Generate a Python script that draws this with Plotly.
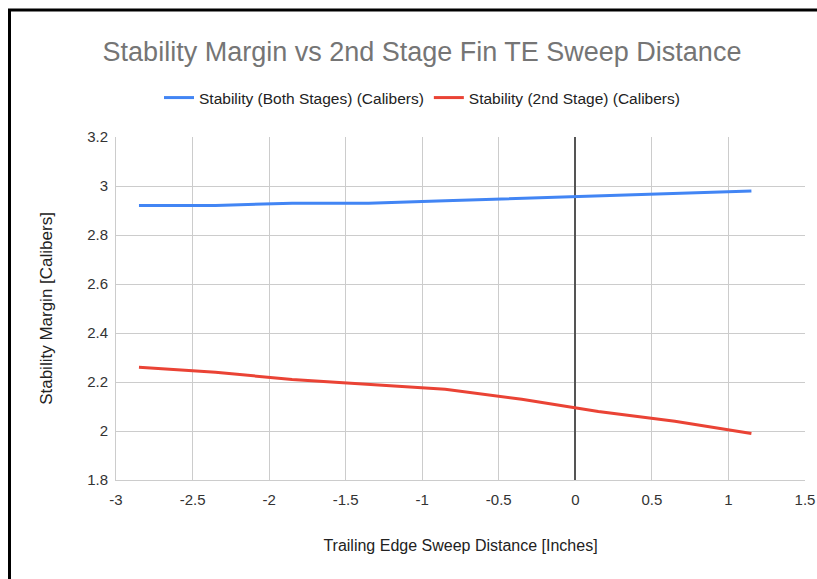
import plotly.graph_objects as go

sweep = [-2.85, -2.35, -1.85, -1.35, -0.85, -0.35, 0.15, 0.65, 1.15]
both_stages = [2.92, 2.92, 2.93, 2.93, 2.94, 2.95, 2.96, 2.97, 2.98]
second_stage = [2.26, 2.24, 2.21, 2.19, 2.17, 2.13, 2.08, 2.04, 1.99]
x_tick_vals = [-3, -2.5, -2, -1.5, -1, -0.5, 0, 0.5, 1, 1.5]
x_tick_text = ["-3", "-2.5", "-2", "-1.5", "-1", "-0.5", "0", "0.5", "1", "1.5"]
y_tick_vals = [1.8, 2, 2.2, 2.4, 2.6, 2.8, 3, 3.2]
y_tick_text = ["1.8", "2", "2.2", "2.4", "2.6", "2.8", "3", "3.2"]
name_both = "Stability (Both Stages) (Calibers)"
name_second = "Stability (2nd Stage) (Calibers)"
title = "Stability Margin vs 2nd Stage Fin TE Sweep Distance"
x_title = "Trailing Edge Sweep Distance [Inches]"
y_title = "Stability Margin [Calibers]"

W, H = 817, 579
L, R, T, B = 116, 12, 137, 99
pw, ph = W - L - R, H - T - B

def px(xp):
    return (xp - L) / pw

def py(yp):
    return (H - B - yp) / ph

font = "Arial, Liberation Sans, sans-serif"

fig = go.Figure()
fig.add_trace(go.Scatter(x=sweep, y=both_stages, mode="lines", name=name_both,
                         line=dict(color="#4285F4", width=3)))
fig.add_trace(go.Scatter(x=sweep, y=second_stage, mode="lines", name=name_second,
                         line=dict(color="#EA4335", width=3)))

fig.update_layout(
    width=W, height=H,
    margin=dict(l=L, r=R, t=T, b=B, autoexpand=False),
    paper_bgcolor="white", plot_bgcolor="white",
    font=dict(family=font, size=15, color="#222"),
    title=dict(text=title, x=px(422), xref="paper", xanchor="center",
               y=1 - 52 / H, yanchor="middle",
               font=dict(size=27, color="#757575", family=font)),
    legend=dict(orientation="h", x=px(422), xanchor="center", y=py(98), yanchor="middle",
                font=dict(size=15.5, color="#222"), itemwidth=30, bgcolor="rgba(0,0,0,0)"),
    showlegend=True,
)
fig.update_xaxes(range=[-3, 1.5], tickvals=x_tick_vals, ticktext=x_tick_text,
                 automargin=False,
                 showgrid=True, gridcolor="#cccccc", gridwidth=1,
                 zeroline=True, zerolinecolor="#555555", zerolinewidth=1.5,
                 showline=True, linecolor="#cccccc", mirror=False,
                 ticks="", ticklabelstandoff=6, tickfont=dict(size=15, color="#333"),
                 title=dict(text=x_title, font=dict(size=16, color="#222"), standoff=32))
fig.update_yaxes(range=[1.8, 3.2], tickvals=y_tick_vals, ticktext=y_tick_text,
                 automargin=False,
                 showgrid=True, gridcolor="#cccccc", gridwidth=1,
                 zeroline=False, showline=True, linecolor="#cccccc",
                 ticks="", ticklabelstandoff=4, tickfont=dict(size=15, color="#333"),
                 title=dict(text=y_title, font=dict(size=17, color="#222"), standoff=30))

fig.add_shape(type="rect", xref="paper", yref="paper",
              x0=px(9.5), x1=px(840), y0=py(620), y1=py(10),
              line=dict(color="black", width=3), fillcolor="rgba(0,0,0,0)", layer="above")

fig.write_html("out.html")
